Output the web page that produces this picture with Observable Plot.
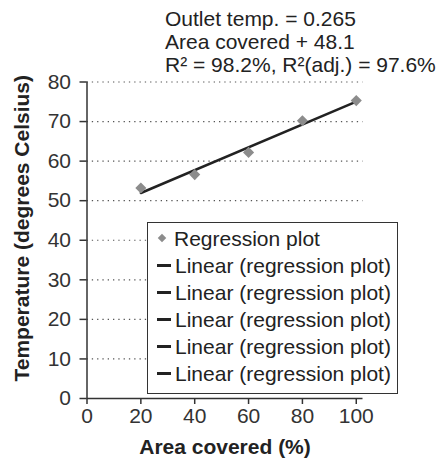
<!DOCTYPE html>
<html>
<head>
<meta charset="utf-8">
<script src="https://cdn.jsdelivr.net/npm/d3@7"></script>
<script src="https://cdn.jsdelivr.net/npm/@observablehq/plot@0.6"></script>
<style>
  body { margin: 0; background: #fff; }
  #wrap { position: relative; width: 440px; height: 462px; font-family: Arial, "Liberation Sans", sans-serif; color: #222; }
  #wrap svg { position: absolute; left: 0; top: 0; }
  #note { position: absolute; left: 165px; top: 7px; font-size: 21px; line-height: 23px; white-space: nowrap; }
  #legend { position: absolute; left: 147px; top: 222px; width: 249px; height: 168px; border: 1.5px solid #333; background: #fff; padding-top: 2px; box-sizing: content-box; }
  .row { height: 27px; line-height: 27px; font-size: 21px; white-space: nowrap; position: relative; }
  .dash { position: absolute; left: 9px; top: 12px; width: 14px; height: 3px; background: #222; }
  .dia { position: absolute; left: 11px; top: 9.5px; width: 6px; height: 6px; background: #8c8c8c; transform: rotate(45deg); }
  .lbl { position: absolute; left: 27px; top: 0; }
</style>
</head>
<body>
<div id="wrap"></div>
<script>
const area = [20, 40, 60, 80, 100];
const temp = [53.2, 56.6, 62.2, 70.2, 75.3];
const xTicks = [0, 20, 40, 60, 80, 100];
const yTicks = [0, 10, 20, 30, 40, 50, 60, 70, 80];
const gridY = [10, 20, 30, 40, 50, 60, 70, 80];
const noteLines = ["Outlet temp. = 0.265", "Area covered + 48.1", "R\u00b2 = 98.2%, R\u00b2(adj.) = 97.6%"];
const legendPoint = "Regression plot";
const legendLines = ["Linear (regression plot)", "Linear (regression plot)", "Linear (regression plot)", "Linear (regression plot)", "Linear (regression plot)"];
const xTitle = "Area covered (%)";
const yTitle = "Temperature (degrees Celsius)";

const data = area.map((a, i) => ({area: a, temp: temp[i]}));

const chart = Plot.plot({
  width: 440,
  height: 462,
  marginLeft: 86.5,
  marginRight: 77.5,
  marginTop: 81.5,
  marginBottom: 64,
  style: {fontFamily: "Arial, 'Liberation Sans', sans-serif", background: "transparent", color: "#222"},
  x: {domain: [0, 102.5]},
  y: {domain: [0, 80]},
  marks: [
    Plot.ruleY(gridY, {stroke: "#555", strokeWidth: 1.2, strokeDasharray: "1.3,4"}),
    Plot.axisY({ticks: yTicks, tickSize: 7, tickPadding: 9, fontSize: 21, label: null, stroke: "#333", strokeWidth: 1.5, fill: "#333"}),
    Plot.axisX({ticks: xTicks, tickSize: 6, tickPadding: 4, fontSize: 21, label: null, stroke: "#333", strokeWidth: 1.5, fill: "#333"}),
    Plot.ruleX([0], {stroke: "#333", strokeWidth: 1.5}),
    Plot.ruleY([0], {stroke: "#333", strokeWidth: 1.5}),
    Plot.linearRegressionY(data, {x: "area", y: "temp", stroke: "#222", strokeWidth: 2.5, ci: 0}),
    Plot.dot(data, {x: "area", y: "temp", symbol: "diamond2", r: 5, fill: "#8c8c8c", stroke: "none"}),
    Plot.text([xTitle], {frameAnchor: "bottom", lineAnchor: "middle", textAnchor: "middle", dy: 49, fontSize: 21, fontWeight: "bold", fill: "#222"}),
    Plot.text([yTitle], {frameAnchor: "left", lineAnchor: "middle", textAnchor: "middle", dx: -64.5, dy: -12, rotate: -90, fontSize: 21, fontWeight: "bold", fill: "#222"})
  ]
});

const wrap = document.getElementById("wrap");
wrap.appendChild(chart);

const note = document.createElement("div");
note.id = "note";
note.innerHTML = noteLines.map(t => `<div>${t}</div>`).join("");
wrap.appendChild(note);

const legend = document.createElement("div");
legend.id = "legend";
let html = `<div class="row"><span class="dia"></span><span class="lbl" style="left:26px">${legendPoint}</span></div>`;
for (const l of legendLines) html += `<div class="row"><span class="dash"></span><span class="lbl">${l}</span></div>`;
legend.innerHTML = html;
wrap.appendChild(legend);
</script>
</body>
</html>
